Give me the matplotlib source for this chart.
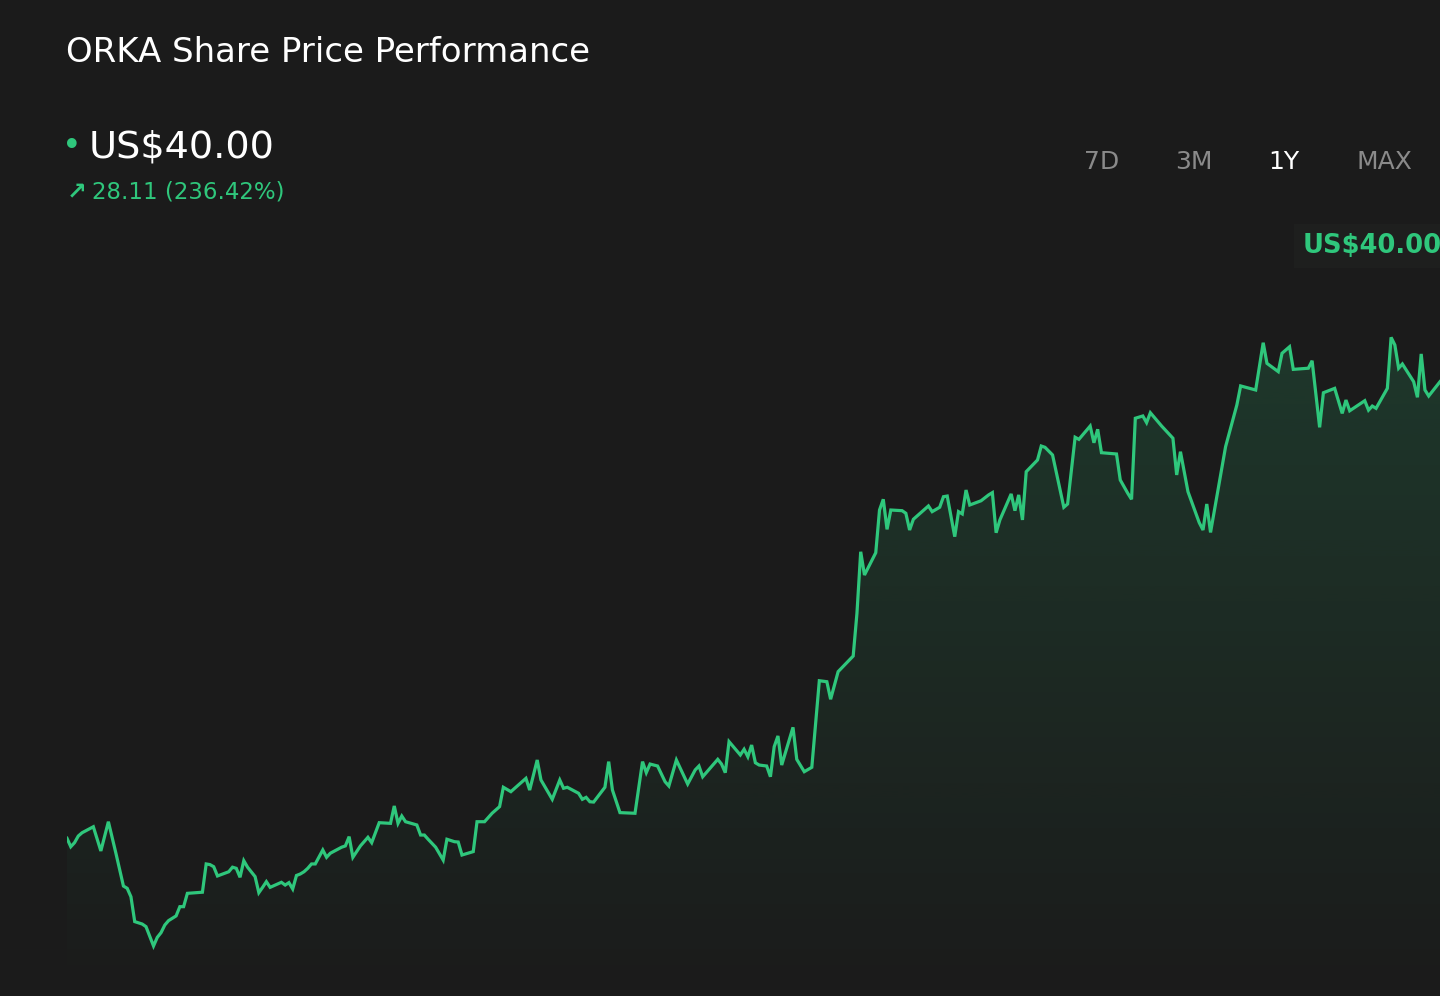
import matplotlib
matplotlib.use("Agg")
import matplotlib.pyplot as plt
import numpy as np
from matplotlib.colors import to_rgb

# ORKA close prices over one year (calendar day offset, price in US$)
DAYS = [
    0, 1, 2, 3, 4, 7, 9, 11, 13, 15, 16, 17, 18, 20, 21, 23, 24, 25, 26, 27,
    29, 30, 31, 32, 36, 37, 38, 39, 40, 43, 44, 45, 46, 47, 48, 50, 51, 52, 53, 54,
    57, 58, 59, 60, 61, 62, 63, 64, 65, 66, 68, 69, 70, 73, 74, 75, 76, 78, 80, 81,
    83, 86, 87, 88, 89, 90, 93, 94, 95, 96, 98, 100, 101, 103, 104, 105, 108, 109, 111, 113,
    115, 116, 118, 122, 123, 125, 126, 129, 131, 132, 133, 136, 137, 138, 139, 140, 143, 144, 145, 147,
    151, 153, 154, 155, 157, 159, 160, 162, 165, 167, 168, 169, 173, 174, 175, 176, 179, 180, 181, 182,
    183, 184, 186, 187, 188, 189, 190, 193, 194, 196, 198, 200, 202, 203, 205, 209, 210, 211, 212, 215,
    216, 217, 218, 219, 222, 223, 224, 225, 229, 230, 232, 233, 234, 236, 237, 238, 239, 240, 243, 245,
    246, 247, 248, 251, 252, 253, 254, 255, 258, 259, 260, 262, 265, 266, 268, 269, 272, 273, 274, 275,
    279, 280, 282, 283, 284, 286, 287, 288, 291, 294, 295, 296, 298, 301, 302, 303, 304, 308, 311, 312,
    316, 318, 319, 322, 323, 325, 326, 330, 331, 333, 334, 337, 339, 340, 341, 345, 346, 347, 348, 351,
    352, 353, 354, 355, 358, 359, 360, 361, 362, 365,
]
PRICES = [
    11.89, 11.37, 11.62, 12.03, 12.23, 12.60, 11.11, 12.91, 10.97, 8.95, 8.81, 8.29, 6.76, 6.61, 6.45, 5.26, 5.79, 6.08, 6.55, 6.82,
    7.11, 7.68, 7.68, 8.50, 8.57, 10.31, 10.27, 10.14, 9.57, 9.83, 10.11, 10.04, 9.49, 10.51, 10.11, 9.53, 8.54, 8.87, 9.22, 8.87,
    9.18, 9.01, 9.16, 8.77, 9.60, 9.69, 9.83, 10.04, 10.31, 10.31, 11.17, 10.72, 10.97, 11.34, 11.42, 11.99, 10.72, 11.42, 11.95, 11.62,
    12.85, 12.81, 13.88, 12.81, 13.26, 12.91, 12.71, 12.09, 12.09, 11.83, 11.34, 10.55, 11.83, 11.68, 11.66, 10.86, 11.07, 12.91, 12.91, 13.43,
    13.84, 15.03, 14.76, 15.58, 14.86, 16.71, 15.48, 14.29, 15.48, 14.97, 15.03, 14.66, 14.29, 14.41, 14.14, 14.12, 15.03, 16.61, 14.86, 13.47,
    13.43, 16.61, 15.93, 16.46, 16.34, 15.37, 15.11, 16.71, 15.23, 16.10, 16.34, 15.68, 16.75, 16.46, 15.93, 17.84, 17.02, 17.37, 16.91, 17.63,
    16.54, 16.40, 16.34, 15.68, 17.53, 18.19, 16.40, 18.72, 16.75, 15.99, 16.26, 21.59, 21.53, 20.45, 22.15, 23.11, 25.74, 29.53, 28.10, 29.47,
    32.10, 32.76, 30.91, 32.10, 32.06, 31.90, 30.87, 31.53, 32.35, 32.00, 32.27, 32.92, 32.96, 30.46, 32.00, 31.86, 33.33, 32.41, 32.67, 33.03,
    33.17, 30.70, 31.49, 33.09, 32.06, 33.03, 31.49, 34.46, 35.18, 36.04, 35.96, 35.49, 32.27, 32.47, 36.58, 36.45, 37.27, 36.24, 37.07, 35.63,
    35.55, 33.95, 33.13, 32.76, 37.75, 37.89, 37.48, 38.09, 37.27, 36.52, 34.26, 35.69, 33.23, 31.32, 30.87, 32.47, 30.72, 36.00, 38.57, 39.74,
    39.49, 42.40, 41.13, 40.62, 41.75, 42.15, 40.76, 40.83, 41.29, 37.19, 39.32, 39.59, 38.05, 38.87, 38.21, 38.83, 38.25, 38.50, 38.36, 39.59,
    42.73, 42.26, 40.83, 41.09, 40.00, 39.04, 41.71, 39.49, 39.12, 40.00,
]

TICKER = "ORKA"
LAST_PRICE = 40.00
CHANGE = 28.11
CHANGE_PCT = 236.42
RANGES = ["7D", "3M", "1Y", "MAX"]
ACTIVE_RANGE = "1Y"

BG = "#1b1b1b"
GREEN = "#2fc77c"
GREY = "#8a8a8a"

W, H = 1440, 996


def fx(px):
    return px / W


def fy(py):
    return 1 - py / H


def main() -> None:
    plt.rcParams["font.family"] = ["DejaVu Sans"]
    fig = plt.figure(figsize=(W / 100, H / 100), dpi=100, facecolor=BG)

    ax = fig.add_axes([67 / W, 0, 1 - 67 / W, 1])
    ax.set_facecolor(BG)
    ax.set_xlim(0, 365)
    ax.set_ylim(2.18, 63.5)
    ax.axis("off")

    days = np.array(DAYS)
    prices = np.array(PRICES)

    # gradient fill under the line
    ylo = ax.get_ylim()[0]
    ytop = prices.max()
    rgb = to_rgb(GREEN)
    grad = np.zeros((256, 1, 4))
    grad[..., 0], grad[..., 1], grad[..., 2] = rgb
    grad[:, 0, 3] = np.linspace(0.17, 0.0, 256)
    poly = ax.fill_between(days, prices, ylo, color="none", lw=0)
    im = ax.imshow(grad, aspect="auto", extent=[0, 365, ylo, ytop],
                   origin="upper", zorder=1)
    im.set_clip_path(poly.get_paths()[0], transform=ax.transData)

    ax.plot(days, prices, color=GREEN, lw=2.3, zorder=3, solid_joinstyle="miter")

    # header
    fig.text(fx(66), fy(53), f"{TICKER} Share Price Performance",
             color="white", fontsize=24.5, va="center", ha="left")
    fig.text(fx(72), fy(146), "\u2022", color=GREEN, fontsize=24,
             va="center", ha="center")
    fig.text(fx(89), fy(147), f"US${LAST_PRICE:.2f}", color="white",
             fontsize=27.5, va="center", ha="left")
    fig.text(fx(67), fy(192), "\u2197", color=GREEN, fontsize=17,
             fontweight="bold", va="center", ha="left")
    fig.text(fx(92), fy(192), f"{CHANGE:.2f} ({CHANGE_PCT:.2f}%)",
             color=GREEN, fontsize=16.5, va="center", ha="left")

    range_x = [1102, 1194, 1284, 1384]
    for label, x in zip(RANGES, range_x):
        fig.text(fx(x), fy(162), label, fontsize=18, va="center", ha="center",
                 color="white" if label == ACTIVE_RANGE else GREY)

    fig.text(fx(1442), fy(246), f"US${LAST_PRICE:.2f}", color=GREEN,
             fontsize=18.5, fontweight="bold", va="center", ha="right",
             bbox=dict(boxstyle="square,pad=0.35", fc="#1e1f1e", ec="none"))

    fig.savefig("out.png", dpi=100, facecolor=BG)
    plt.close(fig)


if __name__ == "__main__":
    main()
